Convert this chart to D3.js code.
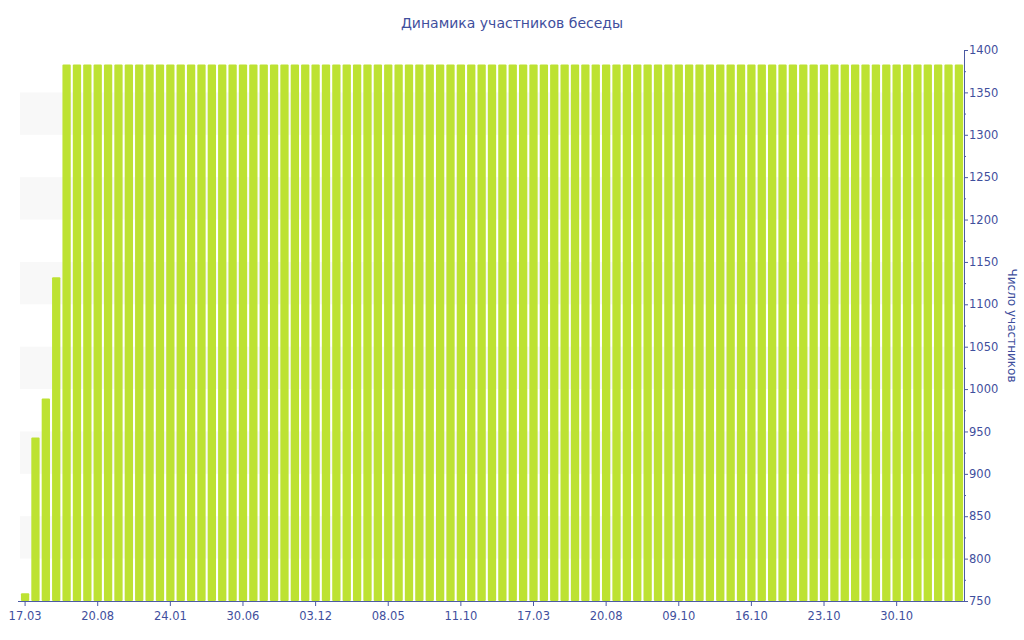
<!DOCTYPE html>
<meta charset="utf-8">
<style>
body { margin: 0; background: #fff; font-family: "DejaVu Sans", Verdana, sans-serif; }
.axis text { fill: #3f4f9d; font-size: 11.5px; font-family: "DejaVu Sans", sans-serif; }
.axis path, .axis line { stroke: #4b5aa3; }
.bar { fill: #bde232; }
</style>
<body>
<script src="https://cdn.jsdelivr.net/npm/d3@7"></script>
<script>

// data
var values = [759, 943, 989, 1132,
  1383, 1383, 1383, 1383, 1383, 1383, 1383, 1383, 1383, 1383,
  1383, 1383, 1383, 1383, 1383, 1383, 1383, 1383, 1383, 1383,
  1383, 1383, 1383, 1383, 1383, 1383, 1383, 1383, 1383, 1383,
  1383, 1383, 1383, 1383, 1383, 1383, 1383, 1383, 1383, 1383,
  1383, 1383, 1383, 1383, 1383, 1383, 1383, 1383, 1383, 1383,
  1383, 1383, 1383, 1383, 1383, 1383, 1383, 1383, 1383, 1383,
  1383, 1383, 1383, 1383, 1383, 1383, 1383, 1383, 1383, 1383,
  1383, 1383, 1383, 1383, 1383, 1383, 1383, 1383, 1383, 1383,
  1383, 1383, 1383, 1383, 1383, 1383, 1383];
var tickLabels = ["17.03", "20.08", "24.01", "30.06", "03.12", "08.05", "11.10",
  "17.03", "20.08", "09.10", "16.10", "23.10", "30.10"];
var tickEvery = 7;
var yTicks = [750, 800, 850, 900, 950, 1000, 1050, 1100, 1150, 1200, 1250, 1300, 1350, 1400];

var W = 1024, H = 640;
var m = {left: 20, right: 964, top: 50, bottom: 601};

var svg = d3.select("body").append("svg")
    .attr("width", W)
    .attr("height", H);

var x = d3.scaleBand()
    .domain(d3.range(values.length))
    .range([m.left, m.right])
    .paddingInner(0.2)
    .paddingOuter(0.09);
var y = d3.scaleLinear()
    .domain([750, 1400])
    .range([m.bottom, m.top]);

// alternating background bands
var bands = [];
for (var i = 1; i < yTicks.length - 1; i += 2) bands.push([yTicks[i], yTicks[i + 1]]);
svg.append("g").selectAll("rect")
    .data(bands)
    .enter().append("rect")
      .attr("x", m.left)
      .attr("width", m.right - m.left)
      .attr("y", function(d) { return y(d[1]); })
      .attr("height", function(d) { return y(d[0]) - y(d[1]); })
      .attr("fill", "#f8f8f8");

// bars
svg.append("g").selectAll("rect")
    .data(values)
    .enter().append("rect")
      .attr("class", "bar")
      .attr("x", function(d, i) { return x(i); })
      .attr("y", function(d) { return y(d); })
      .attr("width", x.bandwidth())
      .attr("height", function(d) { return m.bottom - y(d); })
      .attr("rx", 1);

// x axis
var xTickVals = tickLabels.map(function(d, i) { return i * tickEvery; });
svg.append("g")
    .attr("class", "axis")
    .attr("transform", "translate(0," + m.bottom + ")")
    .call(d3.axisBottom(x)
      .tickValues(xTickVals)
      .tickSize(5)
      .tickSizeOuter(0)
      .tickFormat(function(d) { return tickLabels[d / tickEvery]; }))
    .call(function(g) { g.select(".domain").attr("d", "M" + (m.left - 2) + ",0.5H" + m.right); })
    .selectAll("text").attr("dy", "0.95em");

// minor y ticks
var yMinor = yTicks.slice(0, -1).map(function(d) { return d + 25; });
svg.append("g")
    .attr("class", "axis")
    .attr("transform", "translate(" + m.right + ",0)")
    .call(d3.axisRight(y).tickValues(yMinor).tickSize(2).tickFormat(""))
    .select(".domain").remove();

// y axis on right
svg.append("g")
    .attr("class", "axis")
    .attr("transform", "translate(" + m.right + ",0)")
    .call(d3.axisRight(y).tickValues(yTicks).tickSize(4).tickPadding(1).tickSizeOuter(0).tickFormat(d3.format("d")));

svg.append("text")
    .attr("transform", "translate(1008," + ((m.top + m.bottom) / 2) + ") rotate(90)")
    .attr("text-anchor", "middle")
    .attr("fill", "#3f4f9d")
    .style("font-size", "12px")
    .text("Число участников");

svg.append("text")
    .attr("x", W / 2)
    .attr("y", 28)
    .attr("text-anchor", "middle")
    .attr("fill", "#3f4f9d")
    .style("font-size", "14px")
    .text("Динамика участников беседы");

</script>
</body>
